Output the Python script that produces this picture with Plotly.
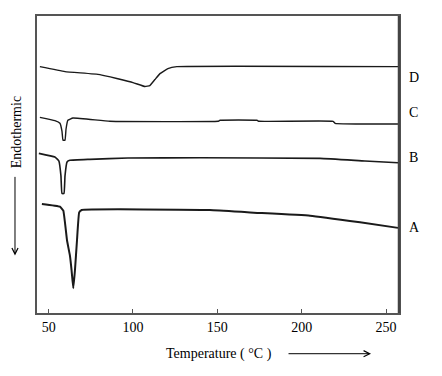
import plotly.graph_objects as go

# Temperature (°C) and signal (arbitrary units)
tA = [46.0, 56.7, 58.7, 60.9, 62.6, 63.6, 64.6, 65.6, 66.8, 68.1, 69.6, 145.6, 169.4, 205.0, 234.6, 257.1]
yA = [109.7, 107.0, 103.0, 73.0, 58.0, 43.0, 25.0, 43.0, 73.0, 101.3, 103.7, 103.7, 101.3, 98.0, 91.3, 85.7]

tB = [44.2, 53.7, 56.1, 57.3, 57.9, 59.1, 59.7, 60.9, 62.6, 74.5, 97.0, 139.7, 210.9, 237.5, 257.1]
yB = [160.7, 157.0, 153.0, 138.0, 120.3, 120.3, 138.0, 152.0, 153.7, 154.7, 156.0, 156.3, 155.7, 153.0, 151.3]

tC = [44.8, 53.7, 56.7, 57.9, 58.5, 59.7, 60.3, 61.4, 64.4, 86.3, 150.4, 151.6, 173.5, 174.7, 218.6, 219.8, 257.1]
yC = [197.0, 193.7, 191.0, 183.0, 174.0, 174.0, 185.0, 194.0, 196.3, 193.0, 193.0, 194.0, 194.0, 193.0, 193.0, 191.0, 190.3]

tD = [44.8, 59.7, 80.4, 100.0, 107.1, 110.0, 113.0, 116.0, 120.7, 126.0, 257.1]
yD = [248.0, 243.0, 240.0, 232.0, 228.0, 229.0, 235.0, 241.0, 246.0, 248.0, 248.0]

labels = ["A", "B", "C", "D"]
label_y = [86.3, 156.3, 202.0, 237.0]
x_ticks = [50, 100, 150, 200, 250]

font_family = "Liberation Serif"
line_col = "#1a1a1a"

fig = go.Figure()
for t, y, w in [(tA, yA, 2.0), (tB, yB, 1.6), (tC, yC, 1.4), (tD, yD, 1.4)]:
    fig.add_trace(go.Scatter(x=t, y=y, mode="lines",
                             line=dict(color=line_col, width=w, shape="spline", smoothing=0.3),
                             showlegend=False, hoverinfo="skip"))

for lab, ly in zip(labels, label_y):
    fig.add_annotation(x=1.0, xref="paper", y=ly, yref="y", text=lab, showarrow=False,
                       xanchor="left", yanchor="middle", xshift=8,
                       font=dict(family=font_family, size=14, color="black"))

# Axis titles
fig.add_annotation(x=0.503, y=-0.137, xref="paper", yref="paper", text="Temperature ( °C )",
                   showarrow=False, xanchor="center", yanchor="middle",
                   font=dict(family=font_family, size=14, color="black"))
fig.add_annotation(x=-0.057, y=0.61, xref="paper", yref="paper", text="Endothermic", textangle=-90,
                   showarrow=False, xanchor="center", yanchor="middle",
                   font=dict(family=font_family, size=14, color="black"))
# Arrows
fig.add_annotation(x=0.9227, y=-0.1371, xref="paper", yref="paper", ax=-84, ay=0, text="",
                   showarrow=True, arrowhead=5, arrowwidth=1, arrowsize=1.2, arrowcolor="black")
fig.add_annotation(x=-0.0608, y=0.194, xref="paper", yref="paper", ax=0, ay=-80, text="",
                   showarrow=True, arrowhead=5, arrowwidth=1, arrowsize=1.2, arrowcolor="black")

# Right frame edge (thicker)
fig.add_shape(type="line", xref="paper", yref="paper", x0=1, x1=1, y0=0, y1=1,
              line=dict(color="#444", width=2.5))

fig.update_xaxes(range=[43.1, 257.7], tickvals=x_ticks, ticks="inside", ticklen=4, tickcolor="#555",
                 showline=True, mirror=True, linecolor="#555", linewidth=1.5, showgrid=False, zeroline=False,
                 tickfont=dict(family=font_family, size=14, color="black"))
fig.update_yaxes(range=[0, 299], showticklabels=False, ticks="", showline=True, mirror=True,
                 linecolor="#555", linewidth=1.5, showgrid=False, zeroline=False)

# page body has an 8px margin, so the figure is shrunk to keep the plot area in place
fig.update_layout(width=434, height=368, margin=dict(l=29, r=43, t=6, b=63),
                  plot_bgcolor="white", paper_bgcolor="white")
fig.write_html("out.html")
